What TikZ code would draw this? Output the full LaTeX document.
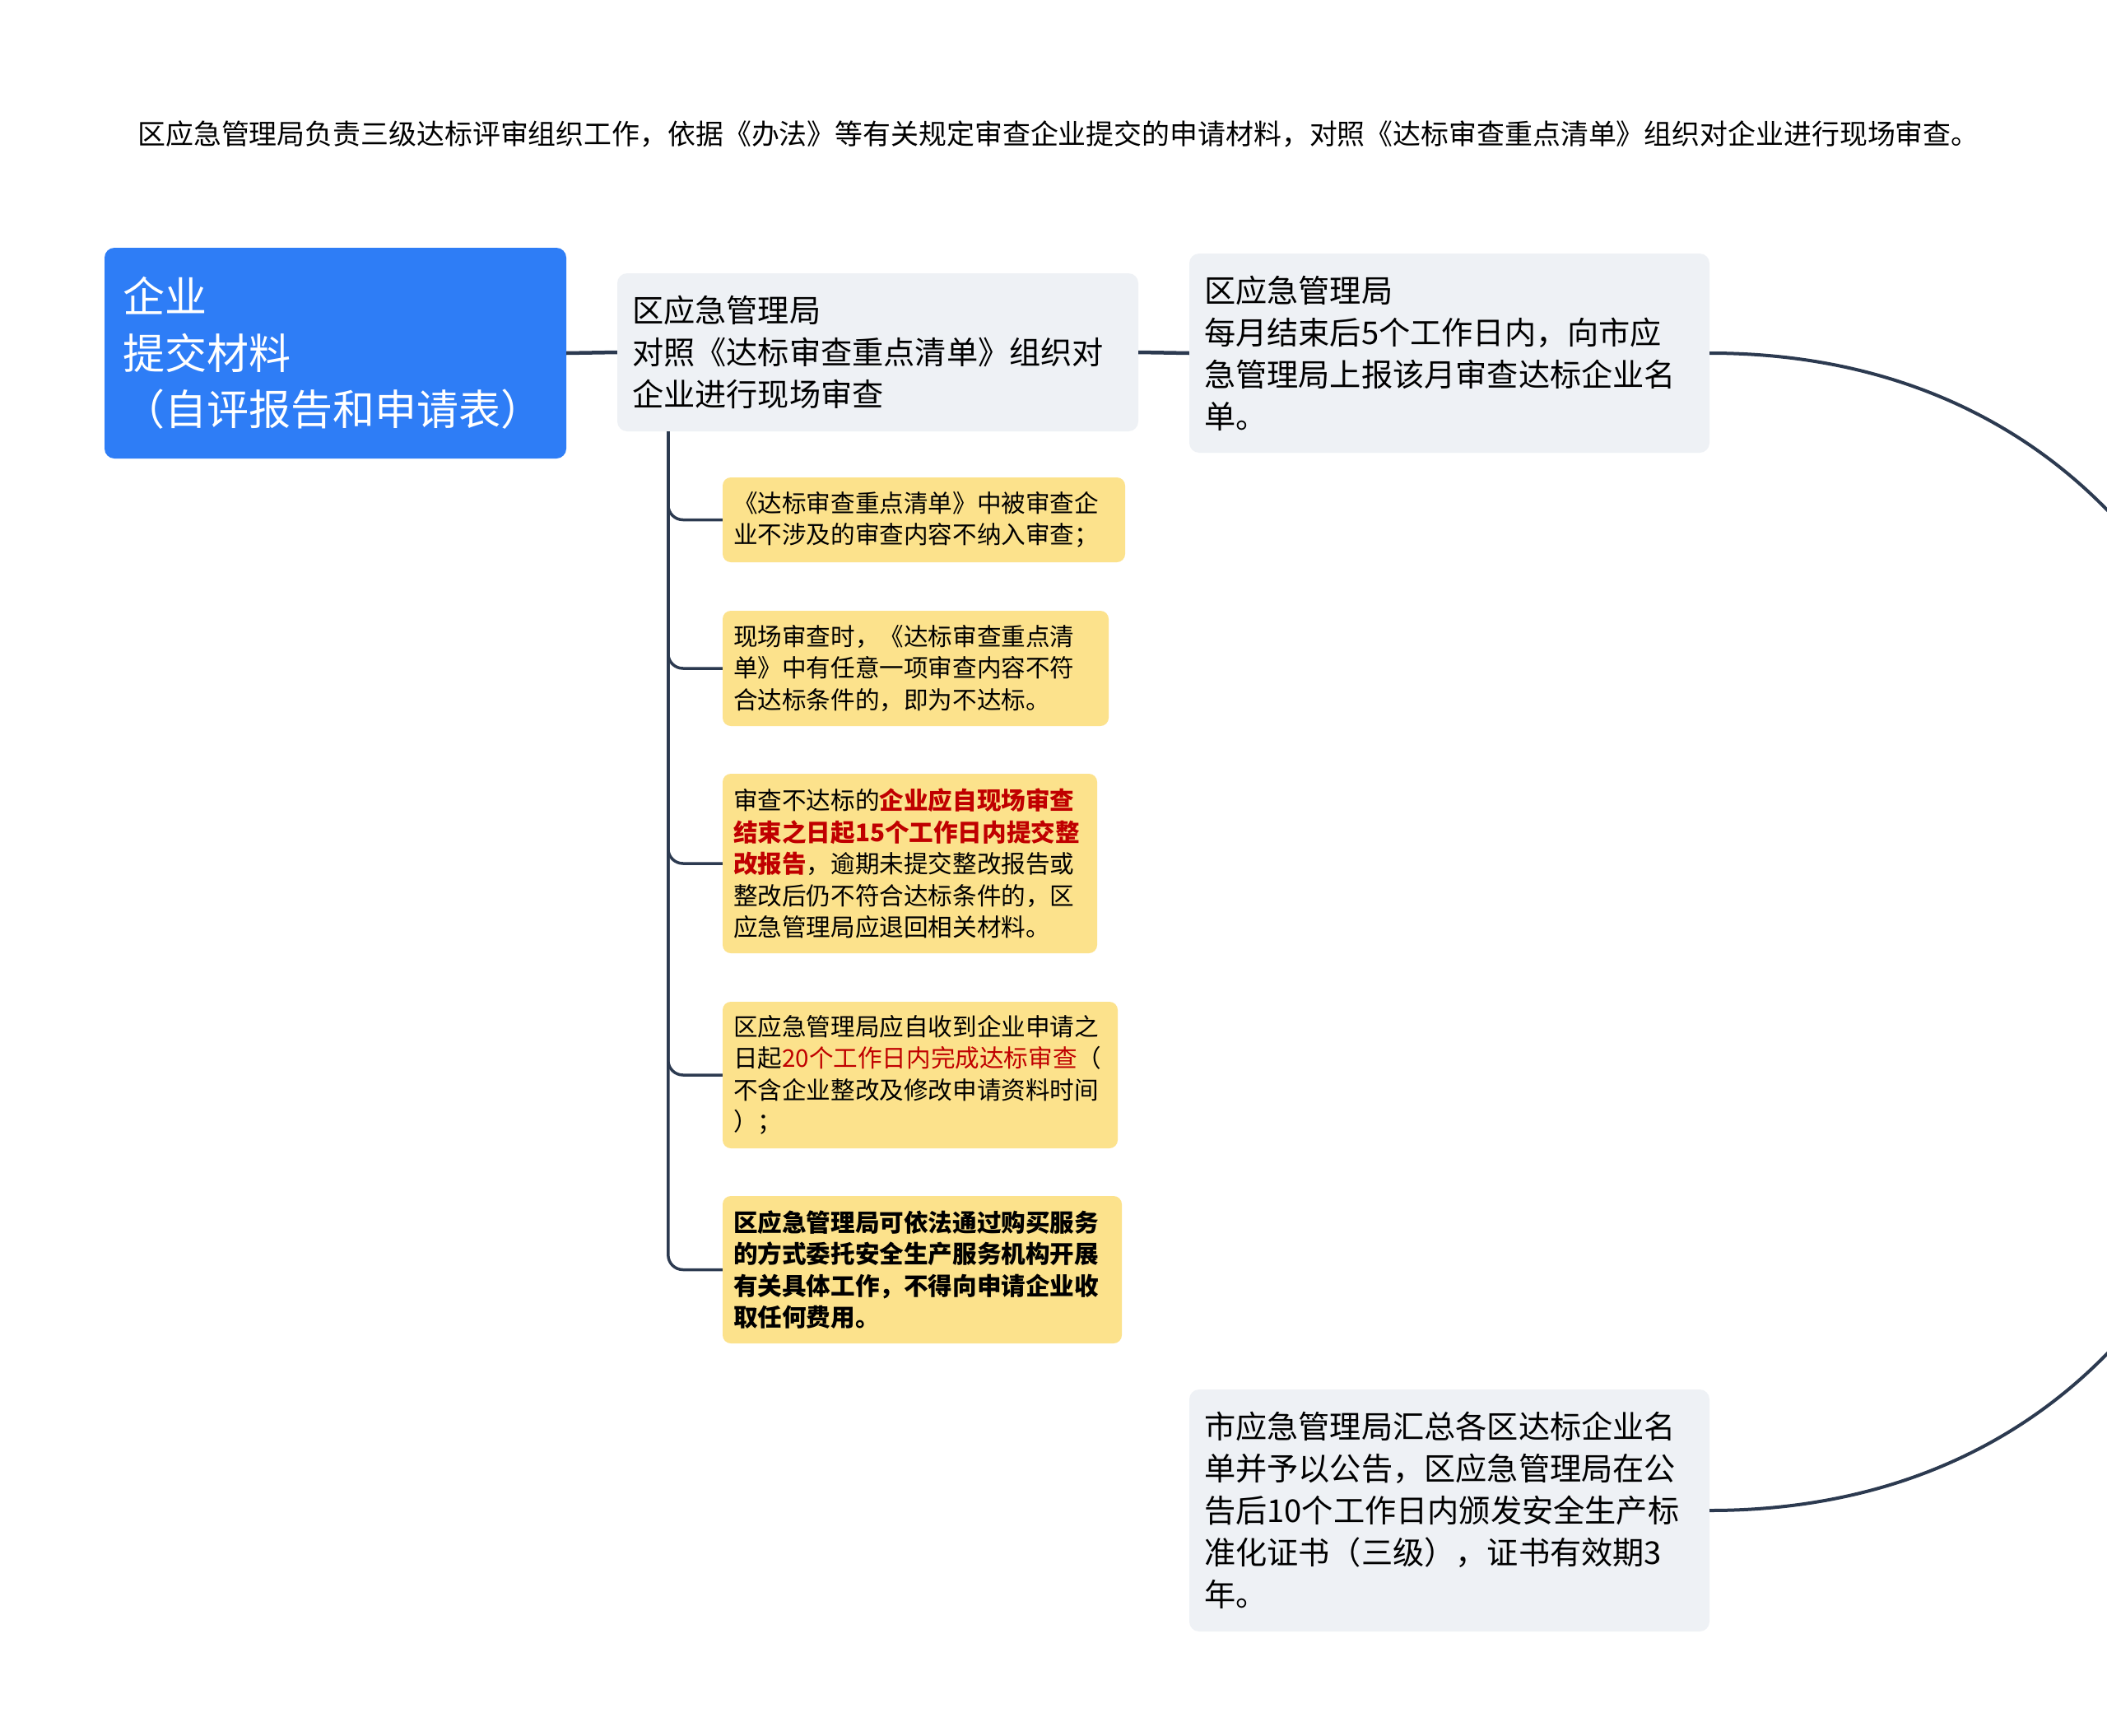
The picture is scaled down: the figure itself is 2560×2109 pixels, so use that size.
\documentclass[tikz,border=0pt]{standalone}
\usepackage{fontspec}
\setmainfont{Noto Sans CJK SC}
\definecolor{cblue}{RGB}{46,125,246}
\definecolor{cgrey}{RGB}{238,241,245}
\definecolor{cyel}{RGB}{252,226,140}
\definecolor{cline}{RGB}{44,58,80}
\definecolor{cred}{RGB}{192,0,0}
\begin{document}
\begin{tikzpicture}[x=1pt,y=-1pt,
 box/.style={rectangle, rounded corners=12pt, inner ysep=0pt, align=left, anchor=center},
 rootbox/.style={box, fill=cblue, text=white, font=\fontsize{51}{68.5}\selectfont, inner xsep=22pt},
 greybox/.style={box, fill=cgrey, text=black, font=\fontsize{38.2}{51}\selectfont, inner xsep=18pt},
 yelbox/.style={box, fill=cyel, text=black, font=\fontsize{29.6}{38.5}\selectfont, inner xsep=13pt, rounded corners=10pt},
 mainline/.style={draw=cline, line width=4.5pt},
 subline/.style={draw=cline, line width=3.5pt, rounded corners=18pt},
 arcline/.style={draw=cline, line width=4pt},
]
\useasboundingbox (0,0) rectangle (2560,2109);
\clip (0,0) rectangle (2560,2109);
\fill[white] (0,0) rectangle (2560,2109);

\node[font=\fontsize{33.9}{40}\selectfont] (title) at (1286,163) {区应急管理局负责三级达标评审组织工作，依据《办法》等有关规定审查企业提交的申请材料，对照《达标审查重点清单》组织对企业进行现场审查。};

\node[rootbox, minimum width=561pt, minimum height=256pt, text width=517pt] (root) at (407.5,429) {企业\\提交材料\\（自评报告和申请表）};

\node[greybox, minimum width=633pt, minimum height=192pt, text width=597pt] (mid) at (1066.5,428) {区应急管理局\\对照《达标审查重点清单》组织对\\企业进行现场审查};

\node[greybox, minimum width=632pt, minimum height=242pt, text width=596pt] (rt) at (1761,429) {区应急管理局\\每月结束后5个工作日内，向市应\\急管理局上报该月审查达标企业名\\单。};

\node[greybox, minimum width=632pt, minimum height=294pt, text width=596pt] (rb) at (1761,1835) {市应急管理局汇总各区达标企业名\\单并予以公告，区应急管理局在公\\告后10个工作日内颁发安全生产标\\准化证书（三级），证书有效期3\\年。};

\node[yelbox, minimum width=489pt, minimum height=103pt, text width=463pt] (y1) at (1122.5,631.5) {《达标审查重点清单》中被审查企\\业不涉及的审查内容不纳入审查；};

\node[yelbox, minimum width=469pt, minimum height=140pt, text width=443pt] (y2) at (1112.5,812) {现场审查时，《达标审查重点清\\单》中有任意一项审查内容不符\\合达标条件的，即为不达标。};

\node[yelbox, minimum width=455pt, minimum height=218pt, text width=429pt] (y3) at (1105.5,1049) {审查不达标的{\bfseries\color{cred}企业应自现场审查}\\{\bfseries\color{cred}结束之日起15个工作日内提交整}\\{\bfseries\color{cred}改报告}，逾期未提交整改报告或\\整改后仍不符合达标条件的，区\\应急管理局应退回相关材料。};

\node[yelbox, minimum width=480pt, minimum height=178pt, text width=454pt] (y4) at (1118,1306) {区应急管理局应自收到企业申请之\\日起{\color{cred}20个工作日内完成达标审查}（\\不含企业整改及修改申请资料时间\\）；};

\node[yelbox, minimum width=485pt, minimum height=179pt, text width=459pt, font=\fontsize{29.6}{38.5}\selectfont\bfseries] (y5) at (1120.5,1542.5) {区应急管理局可依法通过购买服务\\的方式委托安全生产服务机构开展\\有关具体工作，不得向申请企业收\\取任何费用。};

\draw[mainline] (root.east) -- (mid.west);
\draw[mainline] (mid.east) -- (rt.west);
\draw[arcline] (rt.east) .. controls +(906,0) and +(906,0) .. (rb.east);

\coordinate (trunk) at ([xshift=62pt]mid.south west);
\draw[subline] (trunk) |- (y1.west);
\draw[subline] (trunk) |- (y2.west);
\draw[subline] (trunk) |- (y3.west);
\draw[subline] (trunk) |- (y4.west);
\draw[subline] (trunk) |- (y5.west);
\end{tikzpicture}
\end{document}
